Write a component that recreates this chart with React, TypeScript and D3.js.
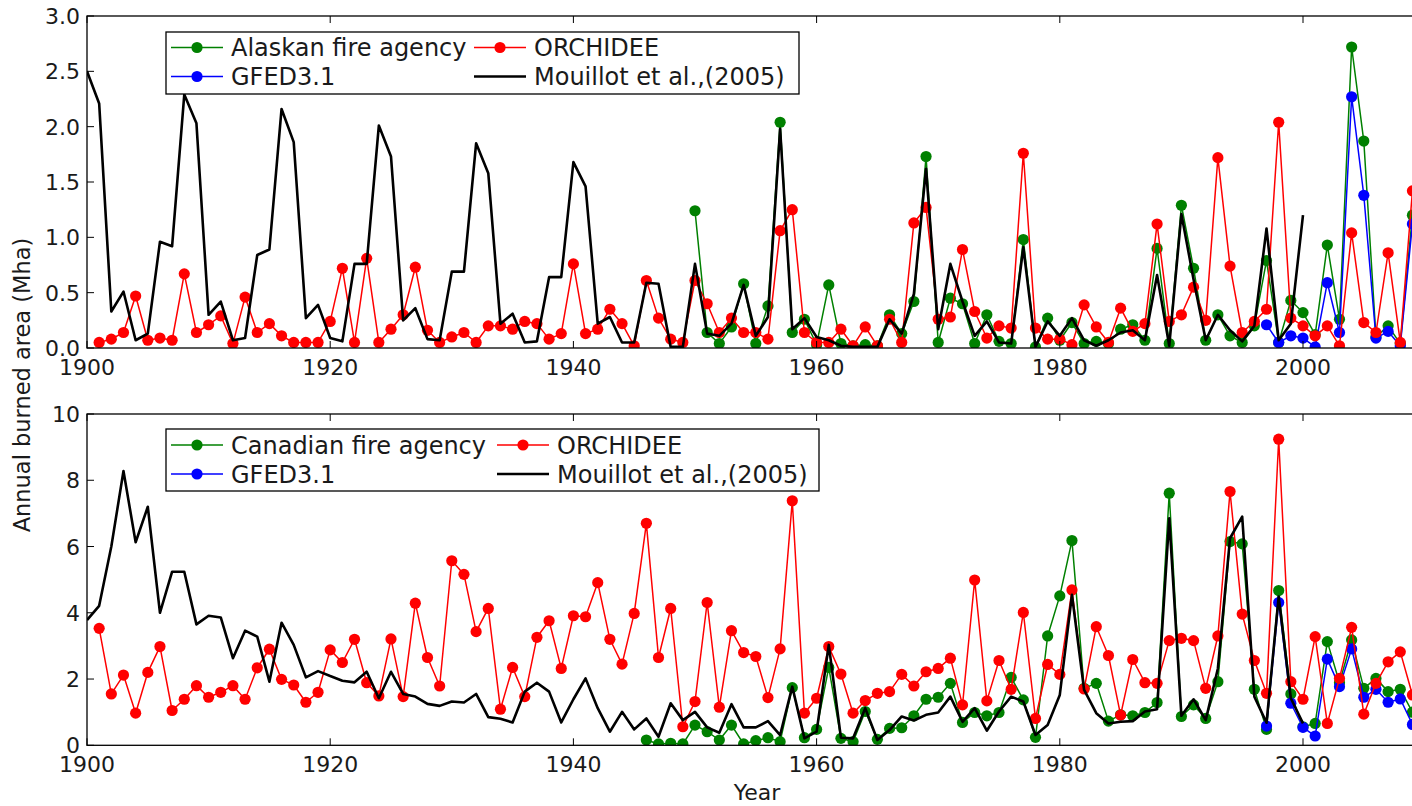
import * as d3 from "d3";

// Alaska (Mha)
const alaskaMouillot = [
  2.5, 2.21, 0.33, 0.51, 0.07, 0.13, 0.96, 0.92, 2.29, 2.03,
  0.3, 0.42, 0.07, 0.09, 0.84, 0.89, 2.16, 1.86, 0.27, 0.39,
  0.09, 0.06, 0.76, 0.76, 2.01, 1.73, 0.25, 0.36, 0.08, 0.07,
  0.69, 0.69, 1.85, 1.58, 0.22, 0.31, 0.05, 0.06, 0.64, 0.64,
  1.68, 1.46, 0.22, 0.28, 0.05, 0.05, 0.59, 0.58, 0.01, 0.01,
  0.76, 0.13, 0.11, 0.22, 0.57, 0.11, 0.28, 1.98, 0.17, 0.27,
  0.1, 0.07, 0.02, 0.01, 0.01, 0.01, 0.26, 0.13, 0.49, 1.62,
  0.17, 0.76, 0.42, 0.11, 0.24, 0.05, 0.04, 0.91, 0.01, 0.24,
  0.11, 0.27, 0.07, 0.02, 0.07, 0.14, 0.16, 0.07, 0.66, 0.02,
  1.21, 0.62, 0.07, 0.3, 0.16, 0.06, 0.2, 1.08, 0.07, 0.22, 1.2,
];
const alaskaOrchidee = [
  0.05, 0.08, 0.14, 0.47, 0.07, 0.09, 0.07, 0.67, 0.14,
  0.21, 0.29, 0.04, 0.46, 0.14, 0.22, 0.11, 0.05, 0.05, 0.05,
  0.24, 0.72, 0.05, 0.81, 0.05, 0.17, 0.3, 0.73, 0.16, 0.05,
  0.1, 0.14, 0.05, 0.2, 0.2, 0.17, 0.24, 0.22, 0.08, 0.13,
  0.76, 0.13, 0.17, 0.35, 0.22, 0.02, 0.61, 0.27, 0.08, 0.05,
  0.61, 0.4, 0.14, 0.27, 0.14, 0.14, 0.08, 1.06, 1.25, 0.14,
  0.05, 0.05, 0.17, 0.02, 0.19, 0.02, 0.26, 0.05, 1.13, 1.27,
  0.26, 0.28, 0.89, 0.33, 0.09, 0.2, 0.18, 1.76, 0.18, 0.08,
  0.08, 0.03, 0.39, 0.19, 0.05, 0.36, 0.15, 0.22, 1.12, 0.24,
  0.3, 0.55, 0.25, 1.72, 0.74, 0.14, 0.24, 0.35, 2.04, 0.27,
  0.2, 0.11, 0.2, 0.02, 1.04, 0.23, 0.14, 0.86, 0.05, 1.42,
];
const alaskaAgency = [
  1.24, 0.14, 0.04, 0.19, 0.58, 0.04, 0.38, 2.04, 0.14, 0.26,
  0.03, 0.57, 0.04, 0.02, 0.03, 0.02, 0.3, 0.13, 0.42, 1.73,
  0.05, 0.45, 0.4, 0.04, 0.3, 0.06, 0.04, 0.98, 0.01, 0.27,
  0.07, 0.23, 0.04, 0.06, 0.04, 0.17, 0.21, 0.07, 0.9, 0.04,
  1.29, 0.72, 0.07, 0.3, 0.11, 0.05, 0.2, 0.79, 0.05, 0.43,
  0.32, 0.12, 0.93, 0.26, 2.72, 1.87, 0.1, 0.2, 0.04, 1.2,
];
const alaskaGfed = [0.21, 0.05, 0.11, 0.09, 0.01, 0.59, 0.14, 2.27, 1.38, 0.09, 0.15, 0.02, 1.12];

// Canada (Mha)
const canadaMouillot = [
  3.78, 4.21, 6.0, 8.28, 6.13, 7.2, 4.0, 5.24, 5.24, 3.65,
  3.91, 3.86, 2.63, 3.46, 3.28, 1.92, 3.7, 3.03, 2.05, 2.24,
  2.09, 1.95, 1.9, 2.22, 1.42, 2.22, 1.55, 1.47, 1.25, 1.19,
  1.32, 1.29, 1.55, 0.85, 0.8, 0.69, 1.62, 1.89, 1.62, 0.69,
  1.39, 2.02, 1.12, 0.41, 1.01, 0.48, 0.81, 0.26, 1.27, 0.76,
  1.01, 0.54, 0.38, 1.24, 0.54, 0.54, 0.73, 0.31, 1.77, 0.21,
  0.41, 3.03, 0.23, 0.21, 1.12, 0.16, 0.46, 0.87, 0.75, 0.92,
  0.99, 1.47, 0.71, 1.12, 0.44, 1.02, 1.47, 1.32, 0.31, 0.61,
  1.52, 4.54, 1.67, 0.97, 0.66, 0.71, 0.73, 1.02, 1.09, 6.85,
  0.89, 1.39, 0.76, 2.32, 6.25, 6.9, 1.47, 0.68, 4.49, 1.42, 0.66,
];
const canadaOrchidee = [
  3.53, 1.55, 2.12, 0.97, 2.2, 2.98, 1.05, 1.39, 1.8,
  1.45, 1.6, 1.8, 1.39, 2.34, 2.9, 1.99, 1.82, 1.3, 1.6,
  2.88, 2.5, 3.2, 1.89, 1.49, 3.21, 1.47, 4.29, 2.65, 1.79,
  5.57, 5.16, 3.43, 4.13, 1.09, 2.35, 1.47, 3.26, 3.76, 2.32,
  3.91, 3.88, 4.91, 3.2, 2.45, 3.98, 6.7, 2.65, 4.13, 0.56,
  1.32, 4.31, 1.15, 3.46, 2.8, 2.68, 1.44, 2.91, 7.38, 0.97,
  1.42, 2.98, 2.15, 0.97, 1.35, 1.57, 1.62, 2.14, 1.79, 2.22,
  2.32, 2.63, 1.22, 4.99, 1.34, 2.56, 1.69, 4.01, 0.81, 2.44,
  2.14, 4.69, 1.7, 3.58, 2.71, 0.91, 2.59, 1.89, 1.87, 3.16,
  3.23, 3.16, 1.72, 3.3, 7.66, 3.96, 2.56, 1.57, 9.24, 1.92,
  1.39, 3.28, 0.66, 2.02, 3.56, 0.94, 1.87, 2.52, 2.82, 1.52,
];
const canadaAgency = [
  0.16, 0.04, 0.06, 0.04,
  0.61, 0.41, 0.16, 0.61, 0.04, 0.14, 0.23, 0.11, 1.74, 0.23,
  0.48, 2.35, 0.21, 0.11, 1.02, 0.18, 0.51, 0.53, 0.89, 1.39,
  1.45, 1.87, 0.69, 0.99, 0.89, 0.99, 2.05, 1.37, 0.24, 3.3,
  4.51, 6.18, 1.72, 1.87, 0.73, 0.92, 0.89, 0.99, 1.29, 7.61,
  0.87, 1.22, 0.81, 1.92, 6.15, 6.08, 1.69, 0.48, 4.67, 1.55,
  0.56, 0.66, 3.13, 1.89, 3.18, 1.72, 2.02, 1.62, 1.69, 1.0,
];
const canadaGfed = [0.58, 4.31, 1.27, 0.54, 0.28, 2.6, 1.77, 2.91, 1.45, 1.69, 1.3, 1.4, 0.63];

const xTicks = [1900, 1920, 1940, 1960, 1980, 2000];
const alaskaTicks = [0, 0.5, 1, 1.5, 2, 2.5, 3];
const canadaTicks = [0, 2, 4, 6, 8, 10];

const FONT = "DejaVu Sans, sans-serif";
const GREEN = "#008000";
const BLUE = "#0000ff";
const RED = "#ff0000";
const INK = "#1a1a1a";

type Pt = { year: number; value: number };
const toPts = (start: number, vals: number[]): Pt[] => vals.map((v, i) => ({ year: start + i, value: v }));

const x = d3.scaleLinear().domain([1900, 2010]).range([87, 1424.6]);

function Series({ pts, color, y, width, markers }: any) {
  const line = d3.line<Pt>().x((d) => x(d.year)).y((d) => y(d.value));
  return (
    <g>
      <path d={line(pts) || ""} fill="none" stroke={color} strokeWidth={width} strokeLinejoin="round" />
      {markers &&
        pts.map((d: Pt) => <circle key={d.year} cx={x(d.year)} cy={y(d.value)} r={5.6} fill={color} />)}
    </g>
  );
}

function Panel({ id, top, bottom, yMax, ticks, fmt, agencyName, agency, orchidee, gfed, mouillot, legend }: any) {
  const y = d3.scaleLinear().domain([0, yMax]).range([bottom, top]);
  const [x0, x1] = x.range();
  const items = [
    { label: agencyName, color: GREEN, marker: true, col: 0, row: 0 },
    { label: "GFED3.1", color: BLUE, marker: true, col: 0, row: 1 },
    { label: "ORCHIDEE", color: RED, marker: true, col: 1, row: 0 },
    { label: "Mouillot et al.,(2005)", color: "#000", marker: false, col: 1, row: 1 },
  ];
  return (
    <g>
      <defs>
        <clipPath id={id}>
          <rect x={x0} y={top} width={x1 - x0} height={bottom - top} />
        </clipPath>
      </defs>
      <g clipPath={`url(#${id})`}>
        <Series pts={toPts(agency.start, agency.values)} color={GREEN} y={y} width={1.5} markers />
        <Series pts={toPts(1997, gfed)} color={BLUE} y={y} width={1.5} markers />
        <Series pts={toPts(1901, orchidee)} color={RED} y={y} width={1.5} markers />
        <Series pts={toPts(1900, mouillot)} color="#000" y={y} width={2.6} markers={false} />
      </g>
      <rect x={x0} y={top} width={x1 - x0} height={bottom - top} fill="none" stroke="#000" strokeWidth={1.3} />
      {xTicks.map((t) => (
        <g key={t}>
          <line x1={x(t)} x2={x(t)} y1={bottom} y2={bottom - 7} stroke="#000" strokeWidth={1} />
          <line x1={x(t)} x2={x(t)} y1={top} y2={top + 7} stroke="#000" strokeWidth={1} />
          <text x={x(t)} y={bottom + 27} textAnchor="middle" fontSize={22} fontFamily={FONT} fill={INK}>
            {t}
          </text>
        </g>
      ))}
      {ticks.map((t: number) => (
        <g key={t}>
          <line x1={x0} x2={x0 + 7} y1={y(t)} y2={y(t)} stroke="#000" strokeWidth={1} />
          <text x={x0 - 7} y={y(t) + 8} textAnchor="end" fontSize={22} fontFamily={FONT} fill={INK}>
            {fmt(t)}
          </text>
        </g>
      ))}
      <rect x={legend.box[0]} y={legend.box[1]} width={legend.box[2]} height={legend.box[3]} fill="#fff" stroke="#000" strokeWidth={1.3} />
      {items.map((it) => {
        const hx = legend.cols[it.col];
        const ry = legend.rows[it.row];
        return (
          <g key={it.label}>
            <line x1={hx} x2={hx + 52} y1={ry} y2={ry} stroke={it.color} strokeWidth={it.marker ? 1.5 : 2.6} />
            {it.marker && <circle cx={hx + 26} cy={ry} r={5.6} fill={it.color} />}
            <text x={hx + 60} y={ry + 8.5} fontSize={24} fontFamily={FONT} fill={INK}>
              {it.label}
            </text>
          </g>
        );
      })}
    </g>
  );
}

export default function App() {
  return (
    <div style={{ position: "absolute", left: 0, top: 0 }}>
      <svg width={1412} height={806} style={{ display: "block", background: "#fff" }}>
        <Panel
          id="clip-alaska"
          top={16}
          bottom={348}
          yMax={3}
          ticks={alaskaTicks}
          fmt={d3.format(".1f")}
          agencyName="Alaskan fire agency"
          agency={{ start: 1950, values: alaskaAgency }}
          orchidee={alaskaOrchidee}
          gfed={alaskaGfed}
          mouillot={alaskaMouillot}
          legend={{ box: [166, 32, 633, 62], rows: [47.5, 76.5], cols: [171, 474] }}
        />
        <Panel
          id="clip-canada"
          top={414}
          bottom={745.3}
          yMax={10}
          ticks={canadaTicks}
          fmt={d3.format("d")}
          agencyName="Canadian fire agency"
          agency={{ start: 1946, values: canadaAgency }}
          orchidee={canadaOrchidee}
          gfed={canadaGfed}
          mouillot={canadaMouillot}
          legend={{ box: [166, 429, 653, 62], rows: [445, 474], cols: [171, 497] }}
        />
        <text transform="translate(30,385) rotate(-90)" textAnchor="middle" fontSize={22.5} fontFamily={FONT} fill={INK}>
          Annual burned area (Mha)
        </text>
        <text x={757} y={800} textAnchor="middle" fontSize={22} fontFamily={FONT} fill={INK}>
          Year
        </text>
      </svg>
    </div>
  );
}
